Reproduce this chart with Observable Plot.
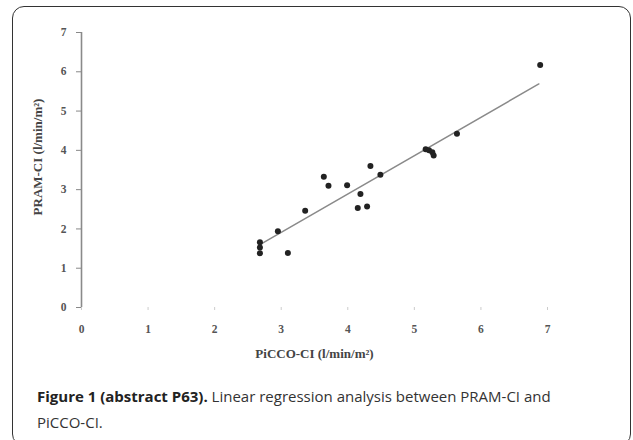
<!DOCTYPE html>
<html>
<head>
<meta charset="utf-8">
<script src="https://cdn.jsdelivr.net/npm/d3@7"></script>
<script src="https://cdn.jsdelivr.net/npm/@observablehq/plot@0.6"></script>
<style>
  html, body { margin: 0; padding: 0; background: #fff; }
  #fig { position: relative; width: 633px; height: 440px; overflow: hidden; }
  #box { position: absolute; left: 12px; top: 6px; width: 619px; height: 440px;
         border: 1.3px solid #333; border-radius: 12px; box-sizing: border-box; }
  #chart { position: absolute; left: 0; top: 0; }
  #caption { position: absolute; left: 37px; top: 383px; width: 580px;
             font-family: "Open Sans", sans-serif; font-size: 15px; line-height: 26px; color: #333; }
  #caption b { color: #222; }
  #caption div { white-space: nowrap; }
</style>
</head>
<body>
<div id="fig">
  <div id="box"></div>
  <div id="chart"></div>
  <div id="caption">
    <div><b>Figure 1 (abstract P63).</b><span> Linear regression analysis between PRAM-CI and</span></div>
    <div>PiCCO-CI.</div>
  </div>
</div>
<script>
// PiCCO-CI (x) and PRAM-CI (y), l/min/m²
const piccoCI = [2.68, 2.68, 2.68, 3.10, 2.95, 3.36, 3.64, 3.71, 3.99, 4.19, 4.15, 4.29, 4.34, 4.49, 5.17, 5.22, 5.27, 5.29, 5.64, 6.89];
const pramCI  = [1.66, 1.53, 1.38, 1.39, 1.94, 2.46, 3.33, 3.10, 3.11, 2.89, 2.53, 2.57, 3.60, 3.38, 4.03, 4.00, 3.95, 3.87, 4.42, 6.17];
// regression line end points
const fitX = [2.68, 6.87];
const fitY = [1.60, 5.69];
const xTicks = [0, 1, 2, 3, 4, 5, 6, 7];
const yTicks = [0, 1, 2, 3, 4, 5, 6, 7];
const xTitle = "PiCCO-CI (l/min/m²)";
const yTitle = "PRAM-CI (l/min/m²)";

const points = piccoCI.map((x, i) => ({x, y: pramCI[i]}));
const fit = fitX.map((x, i) => ({x, y: fitY[i]}));

const chart = Plot.plot({
  width: 633,
  height: 365,
  marginLeft: 81,
  marginRight: 86,
  marginTop: 32,
  marginBottom: 58,
  style: {background: "transparent", fontFamily: "Liberation Serif, serif"},
  x: {domain: [0, 7]},
  y: {domain: [0, 7]},
  marks: [
    Plot.ruleX([0], {stroke: "#8a8a8a", strokeWidth: 1.6}),
    Plot.axisY({ticks: yTicks, tickFormat: "d", tickSize: 5, tickPadding: 10, stroke: "#888", fill: "#555",
      fontSize: 11.5, fontWeight: "bold", label: null}),
    Plot.text([yTitle], {frameAnchor: "left", textAnchor: "middle", rotate: -90, dx: -44, dy: -13,
      fontSize: 13, fontWeight: "bold", fill: "#444"}),
    Plot.axisX({ticks: xTicks, tickFormat: "d", tickSize: 3, tickPadding: 14, stroke: "#ccc", fill: "#555",
      fontSize: 11.5, fontWeight: "bold", label: null}),
    Plot.axisX({ticks: [], label: xTitle, labelAnchor: "center", labelArrow: "none",
      labelOffset: 50, fontSize: 13, fontWeight: "bold", fill: "#444"}),
    Plot.line(fit, {x: "x", y: "y", stroke: "#8a8a8a", strokeWidth: 1.5}),
    Plot.dot(points, {x: "x", y: "y", r: 3, fill: "#222", stroke: "none"})
  ]
});
document.getElementById("chart").appendChild(chart);
</script>
</body>
</html>
